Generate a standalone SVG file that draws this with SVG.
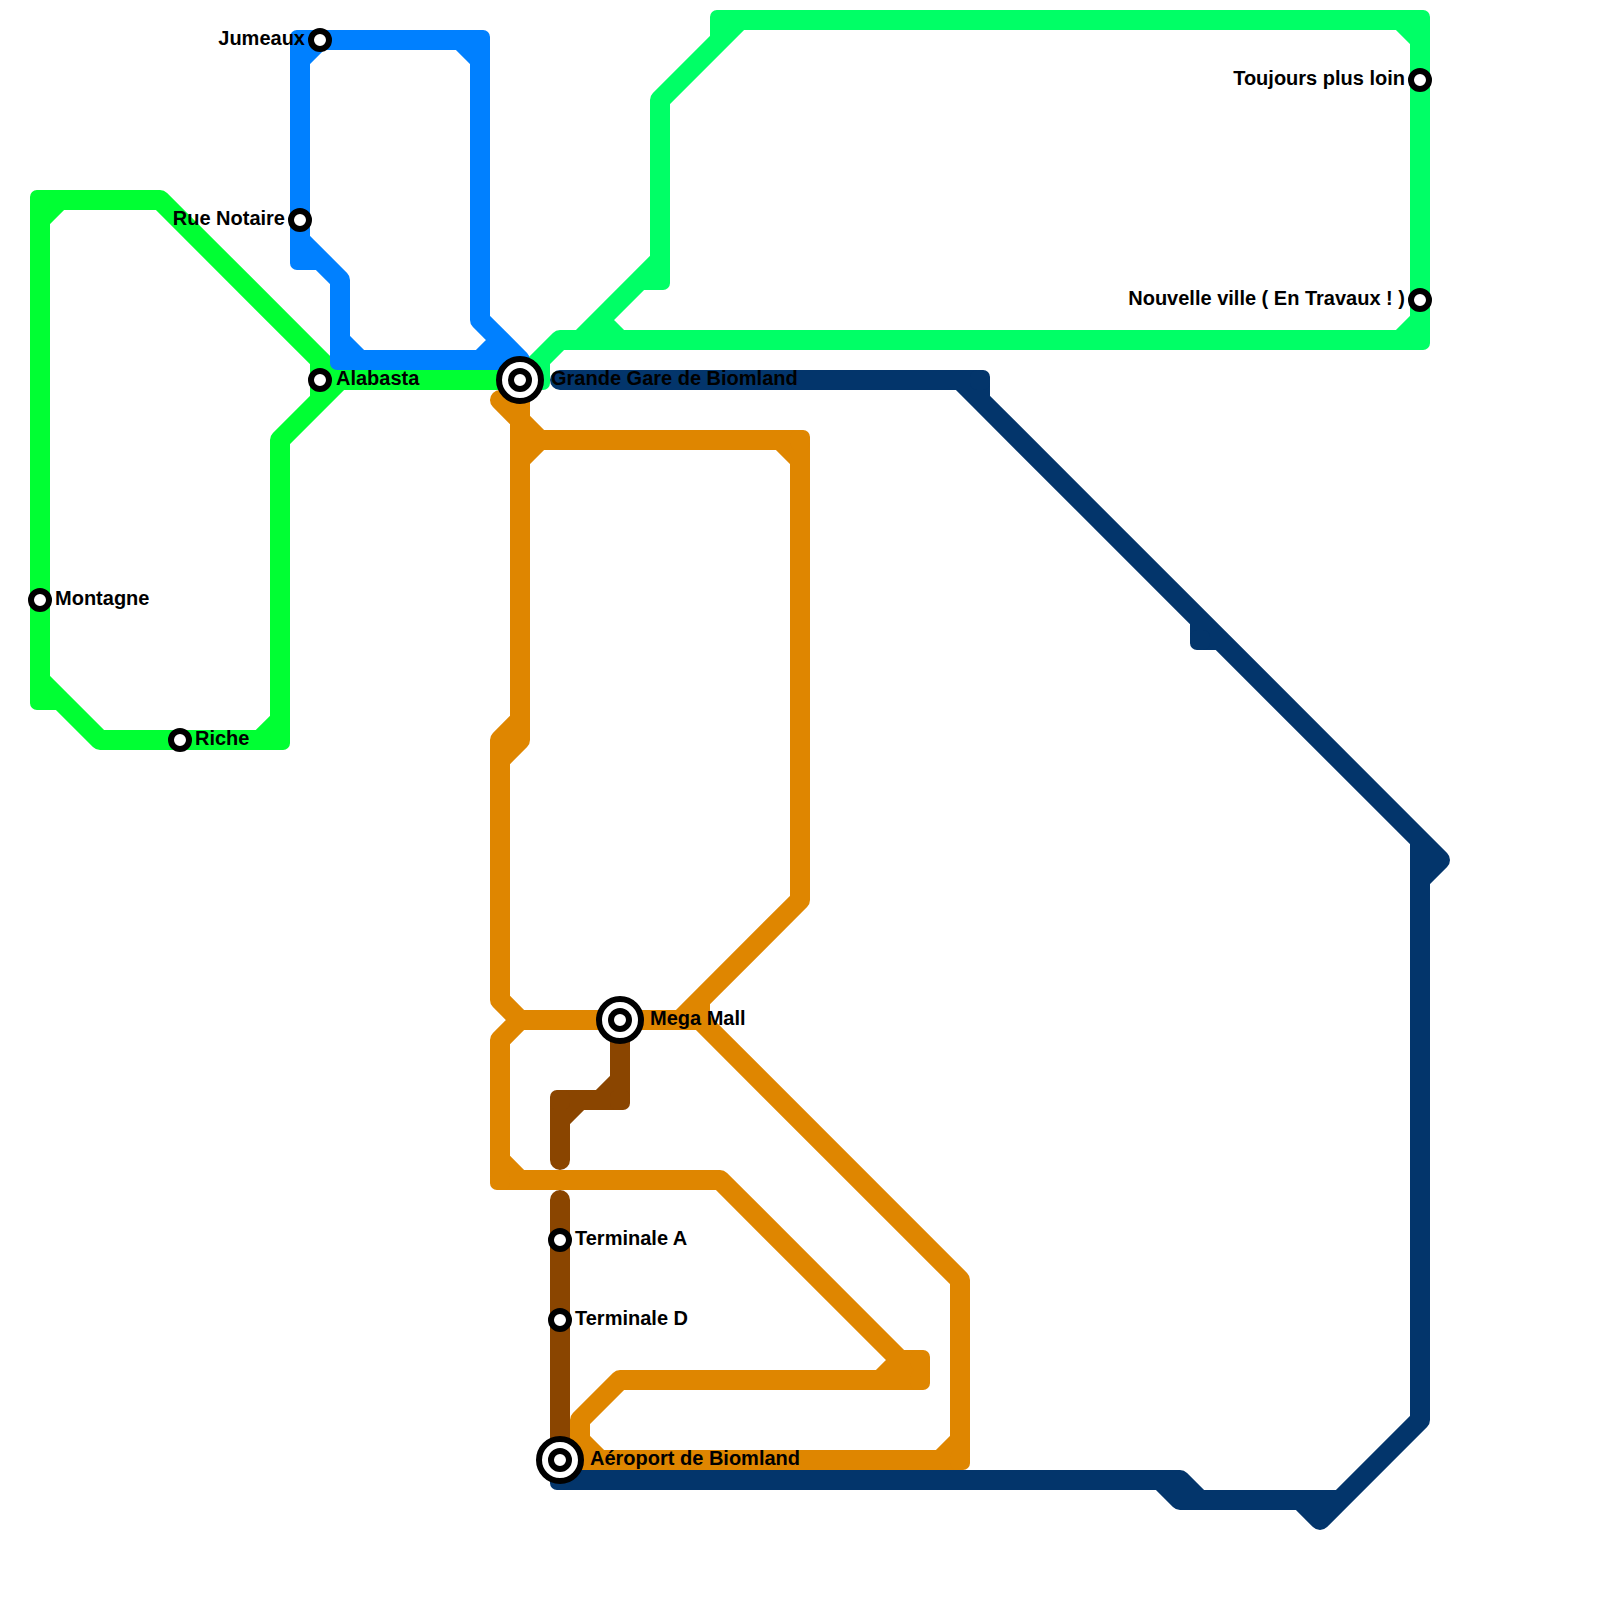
<svg xmlns="http://www.w3.org/2000/svg" width="1600" height="1600" viewBox="0 0 1600 1600">
<style>
.line{fill:none;stroke-width:20;stroke-linecap:round;stroke-linejoin:round}
.st{fill:#fff;stroke:#000;stroke-width:6}
.hub{fill:#fff;stroke:#000;stroke-width:6}
text{font-family:"Liberation Sans",Arial,sans-serif;font-weight:bold;font-size:20px;fill:#000}
.e{text-anchor:end}
</style>
<defs><rect id="c" x="-10" y="-10" width="20" height="20" rx="7"/></defs>
<rect width="1600" height="1600" fill="#fff"/>
<g id="connectors">
<path id="line-green" class="line" stroke="#00ff33" d="M340,380L160,200H40V700H60M60,200L40,220M40,680L100,740H280V440L340,380H520M320,360V400M260,740L280,720"/>
<g fill="#00ff33"><use href="#c" x="40" y="200"/><use href="#c" x="40" y="700"/><use href="#c" x="280" y="740"/></g>
<path id="line-spring" class="line" stroke="#00ff66" d="M520,380L560,340H1420V20H720V40M540,360V380H520M580,340L600,320L620,340M600,320L660,260M660,280V100L740,20M660,280H640M1400,20L1420,40M1400,340L1420,320"/>
<g fill="#00ff66"><use href="#c" x="720" y="20"/><use href="#c" x="1420" y="20"/><use href="#c" x="1420" y="340"/><use href="#c" x="660" y="280"/><use href="#c" x="540" y="380"/></g>
<path id="line-blue" class="line" stroke="#0080ff" d="M320,40H300V260H320M300,60L320,40H480V320L520,360H340V280L300,240M340,340L360,360M480,360L500,340M460,40L480,60"/>
<g fill="#0080ff"><use href="#c" x="300" y="40"/><use href="#c" x="480" y="40"/><use href="#c" x="300" y="260"/><use href="#c" x="340" y="360"/></g>
<path id="line-orange" class="line" stroke="#df8600" d="M500,400L540,440H800V900L680,1020M520,380V740L500,760M520,720L500,740V1000L520,1020H700V1000M520,460L540,440M780,440L800,460M700,1020L960,1280V1460H580V1420L620,1380H920V1360H900L720,1180H500V1040L520,1020M500,1160L520,1180M880,1380L900,1360M940,1460L960,1440M580,1440L600,1460"/>
<g fill="#df8600"><use href="#c" x="800" y="440"/><use href="#c" x="960" y="1460"/><use href="#c" x="920" y="1380"/><use href="#c" x="920" y="1360"/><use href="#c" x="500" y="1180"/></g>
<path id="line-brown" class="line" stroke="#8a4500" d="M620,1020V1100H560V1160M600,1100L620,1080M560,1120L580,1100M560,1200V1460"/>
<g fill="#8a4500"><use href="#c" x="620" y="1100"/><use href="#c" x="560" y="1100"/></g>
<path id="line-navy" class="line" stroke="#03356b" d="M560,380H980V400L1440,860L1420,880V1420L1320,1520L1300,1500M960,380L980,400M1200,620V640H1220M1420,840V880M560,1460V1480H1180L1200,1500H1340M1160,1480L1180,1500H1200"/>
<g fill="#03356b"><use href="#c" x="980" y="380"/><use href="#c" x="1200" y="640"/><use href="#c" x="560" y="1480"/></g>
</g>
<g id="st-jumeaux"><circle class="st" cx="320" cy="40" r="9"/><text class="e" x="305" y="45">Jumeaux</text></g>
<g id="st-rue-notaire"><circle class="st" cx="300" cy="220" r="9"/><text class="e" x="285" y="225">Rue Notaire</text></g>
<g id="st-alabasta"><circle class="st" cx="320" cy="380" r="9"/><text x="336" y="385">Alabasta</text></g>
<g id="st-grande-gare"><circle class="hub" cx="520" cy="380" r="21"/><circle class="st" cx="520" cy="380" r="9"/><text x="551" y="385">Grande Gare de Biomland</text></g>
<g id="st-montagne"><circle class="st" cx="40" cy="600" r="9"/><text x="55" y="605">Montagne</text></g>
<g id="st-riche"><circle class="st" cx="180" cy="740" r="9"/><text x="195" y="745">Riche</text></g>
<g id="st-toujours"><circle class="st" cx="1420" cy="80" r="9"/><text class="e" x="1405" y="85">Toujours plus loin</text></g>
<g id="st-nouvelle"><circle class="st" cx="1420" cy="300" r="9"/><text class="e" x="1405" y="305">Nouvelle ville ( En Travaux ! )</text></g>
<g id="st-mega-mall"><circle class="hub" cx="620" cy="1020" r="21"/><circle class="st" cx="620" cy="1020" r="9"/><text x="650" y="1025">Mega Mall</text></g>
<g id="st-terminale-a"><circle class="st" cx="560" cy="1240" r="9"/><text x="575" y="1245">Terminale A</text></g>
<g id="st-terminale-d"><circle class="st" cx="560" cy="1320" r="9"/><text x="575" y="1325">Terminale D</text></g>
<g id="st-aeroport"><circle class="hub" cx="560" cy="1460" r="21"/><circle class="st" cx="560" cy="1460" r="9"/><text x="590" y="1465">Aéroport de Biomland</text></g>
</svg>
